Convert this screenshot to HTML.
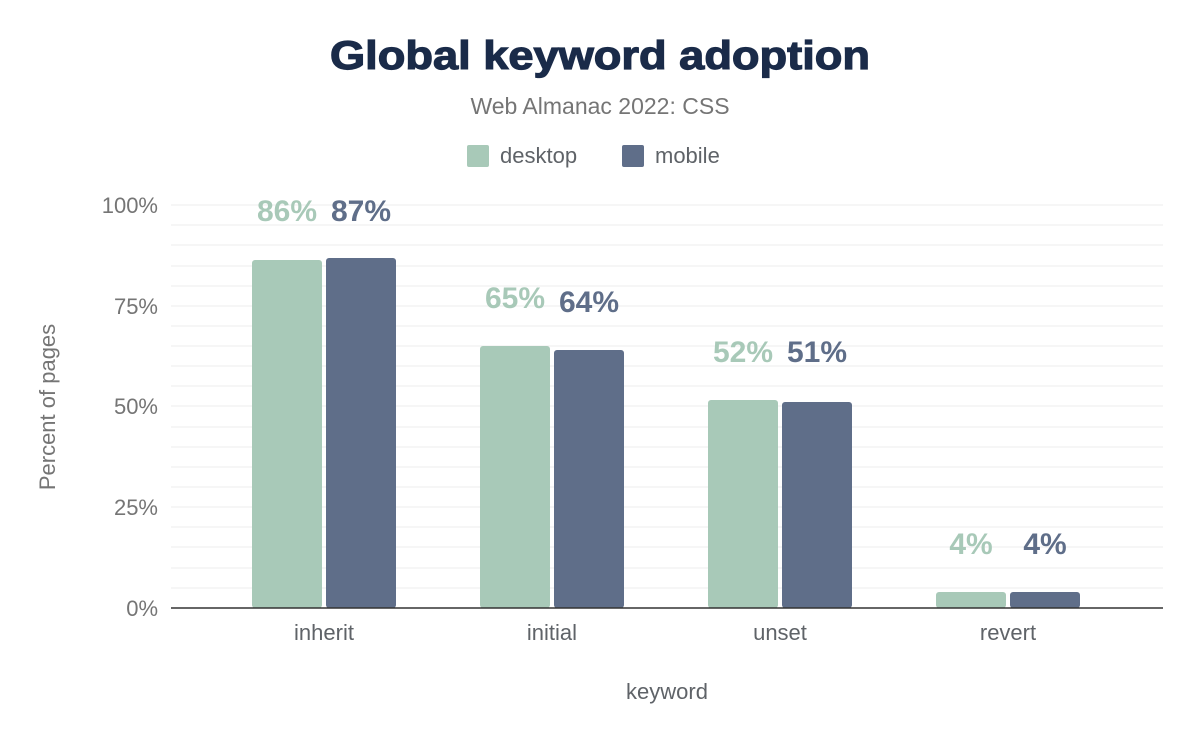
<!DOCTYPE html>
<html><head><style>body{margin:0;background:#fff}</style></head><body>
<svg width="1200" height="742" xmlns="http://www.w3.org/2000/svg" font-family="Liberation Sans, sans-serif">
<rect width="1200" height="742" fill="#fff"/>
<text x="330" y="69" textLength="540" lengthAdjust="spacingAndGlyphs" font-size="40" font-weight="bold" fill="#1a2b49" stroke="#1a2b49" stroke-width="1.2">Global keyword adoption</text>
<text x="600" y="114" text-anchor="middle" font-size="23" fill="#757575">Web Almanac 2022: CSS</text>
<rect x="467" y="145" width="22" height="22" rx="2" fill="#a8c9b8"/>
<text x="500" y="163" font-size="22" fill="#5f6368">desktop</text>
<rect x="622" y="145" width="22" height="22" rx="2" fill="#5f6e89"/>
<text x="655" y="163" font-size="22" fill="#5f6368">mobile</text>
<g stroke="#f3f3f3" stroke-width="1.5">
<line x1="171" x2="1163" y1="205" y2="205"/><line x1="171" x2="1163" y1="225" y2="225"/><line x1="171" x2="1163" y1="245" y2="245"/><line x1="171" x2="1163" y1="266" y2="266"/><line x1="171" x2="1163" y1="286" y2="286"/><line x1="171" x2="1163" y1="306" y2="306"/><line x1="171" x2="1163" y1="326" y2="326"/><line x1="171" x2="1163" y1="346" y2="346"/><line x1="171" x2="1163" y1="366" y2="366"/><line x1="171" x2="1163" y1="386" y2="386"/><line x1="171" x2="1163" y1="406" y2="406"/><line x1="171" x2="1163" y1="427" y2="427"/><line x1="171" x2="1163" y1="447" y2="447"/><line x1="171" x2="1163" y1="467" y2="467"/><line x1="171" x2="1163" y1="487" y2="487"/><line x1="171" x2="1163" y1="507" y2="507"/><line x1="171" x2="1163" y1="527" y2="527"/><line x1="171" x2="1163" y1="547" y2="547"/><line x1="171" x2="1163" y1="568" y2="568"/><line x1="171" x2="1163" y1="588" y2="588"/>
</g>
<g font-size="22" fill="#757575" text-anchor="end">
<text x="158" y="213">100%</text><text x="158" y="314">75%</text><text x="158" y="414">50%</text><text x="158" y="515">25%</text><text x="158" y="616">0%</text>
</g>
<text transform="translate(55,407) rotate(-90)" text-anchor="middle" font-size="22" fill="#757575">Percent of pages</text>
<g fill="#a8c9b8">
<rect x="252" y="260" width="70" height="348" rx="3"/><rect x="480" y="346" width="70" height="262" rx="3"/><rect x="708" y="400" width="70" height="208" rx="3"/><rect x="936" y="592" width="70" height="16" rx="3"/>
</g>
<g fill="#5f6e89">
<rect x="326" y="258" width="70" height="350" rx="3"/><rect x="554" y="350" width="70" height="258" rx="3"/><rect x="782" y="402" width="70" height="206" rx="3"/><rect x="1010" y="592" width="70" height="16" rx="3"/>
</g>
<line x1="171" x2="1163" y1="608" y2="608" stroke="#333" stroke-width="1.5"/>
<g font-size="30" font-weight="bold" text-anchor="middle">
<text x="287" y="221" fill="#a8c9b8">86%</text><text x="361" y="221" fill="#5f6e89">87%</text>
<text x="515" y="308" fill="#a8c9b8">65%</text><text x="589" y="312" fill="#5f6e89">64%</text>
<text x="743" y="362" fill="#a8c9b8">52%</text><text x="817" y="362" fill="#5f6e89">51%</text>
<text x="971" y="554" fill="#a8c9b8">4%</text><text x="1045" y="554" fill="#5f6e89">4%</text>
</g>
<g font-size="22" fill="#5f6368" text-anchor="middle">
<text x="324" y="640">inherit</text><text x="552" y="640">initial</text><text x="780" y="640">unset</text><text x="1008" y="640">revert</text>
</g>
<text x="667" y="699" text-anchor="middle" font-size="22" fill="#5f6368">keyword</text>
</svg>
</body></html>
